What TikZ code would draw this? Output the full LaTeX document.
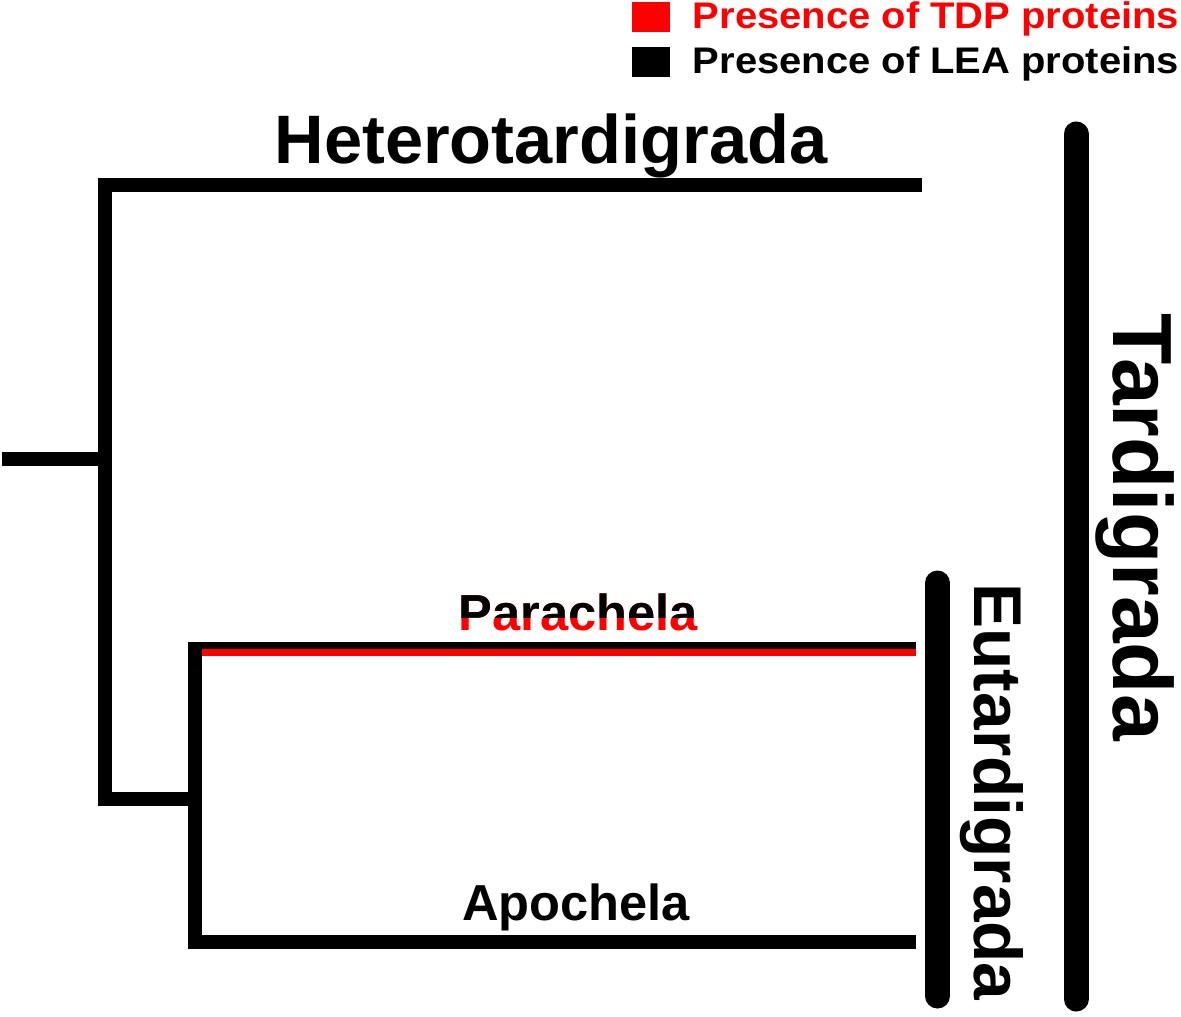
\documentclass[tikz,border=0pt]{standalone}
\usepackage{fontspec}
\setmainfont{Liberation Sans}
\usepackage{tikz}
\usetikzlibrary{positioning}

\begin{document}
\begin{tikzpicture}[
  x=0.5pt, y=-0.5pt,
  mybranch/.style={line width=7pt, line join=miter},
  mybar/.style={line width=12.5pt, line cap=round},
  mylabel/.style={inner sep=0pt, anchor=base, font=\bfseries\fontsize{#1}{#1}\selectfont},
  mykey/.style={draw=none, inner sep=0pt, minimum width=19pt, minimum height=15pt},
  mylegend/.style={inner sep=0pt, font=\bfseries\fontsize{18.5}{19}\selectfont}
]
\useasboundingbox (0,0) rectangle (1181,1016);

% tree
\coordinate (root) at (2,459);
\coordinate (n0) at (105,459);
\coordinate (n1) at (105,799);
\coordinate (n2) at (195,799);
\coordinate (het) at (922,185);
\coordinate (para) at (916,649);
\coordinate (apo) at (916,942);
\coordinate (redstart) at (202,652.5);
\coordinate (redend) at (916,652.5);

\draw [mybranch] (root) -- (n0);
\draw [mybranch] (het) -| (n1) -- (n2);
\draw [mybranch] (para) -| (n2) |- (apo);
\draw [red, line width=3.5pt] (redstart) -- (redend);

% clade bars
\coordinate (eutop) at (937.5,583);
\coordinate (eubot) at (937.5,996);
\coordinate (tartop) at (1076,134);
\coordinate (tarbot) at (1076,999);
\draw [mybar] (eutop) -- (eubot);
\draw [mybar] (tartop) -- (tarbot);

% labels
\node [mylabel=34.3] (hetlab) at (551,163) {Heterotardigrada};
\node [mylabel=25.3, red] (paralab) at (578,630) {Parachela};
\begin{scope}
  \clip (440,560) rectangle (720,617);
  \node [mylabel=25.3] (paralabtop) at (578,630) {Parachela};
\end{scope}
\node [mylabel=33.8, rotate=-90] (eulab) at (974,792) {Eutardigrada};
\node [mylabel=42, rotate=-90] (tarlab) at (1113,527) {Tardigrada};
\node [mylabel=25.3] (apolab) at (576,920) {Apochela};

% legend
\node [mykey, fill=red] (tdpkey) at (651,17) {};
\node [mykey, fill=black] (leakey) at (651,62) {};
\node [mylegend, red, right=11pt of tdpkey, yshift=-1pt] (tdptext)
  {\scalebox{1.08}[1]{Presence of TDP proteins}};
\node [mylegend, right=11pt of leakey, yshift=-1pt] (leatext)
  {\scalebox{1.08}[1]{Presence of LEA proteins}};

\end{tikzpicture}
\end{document}
